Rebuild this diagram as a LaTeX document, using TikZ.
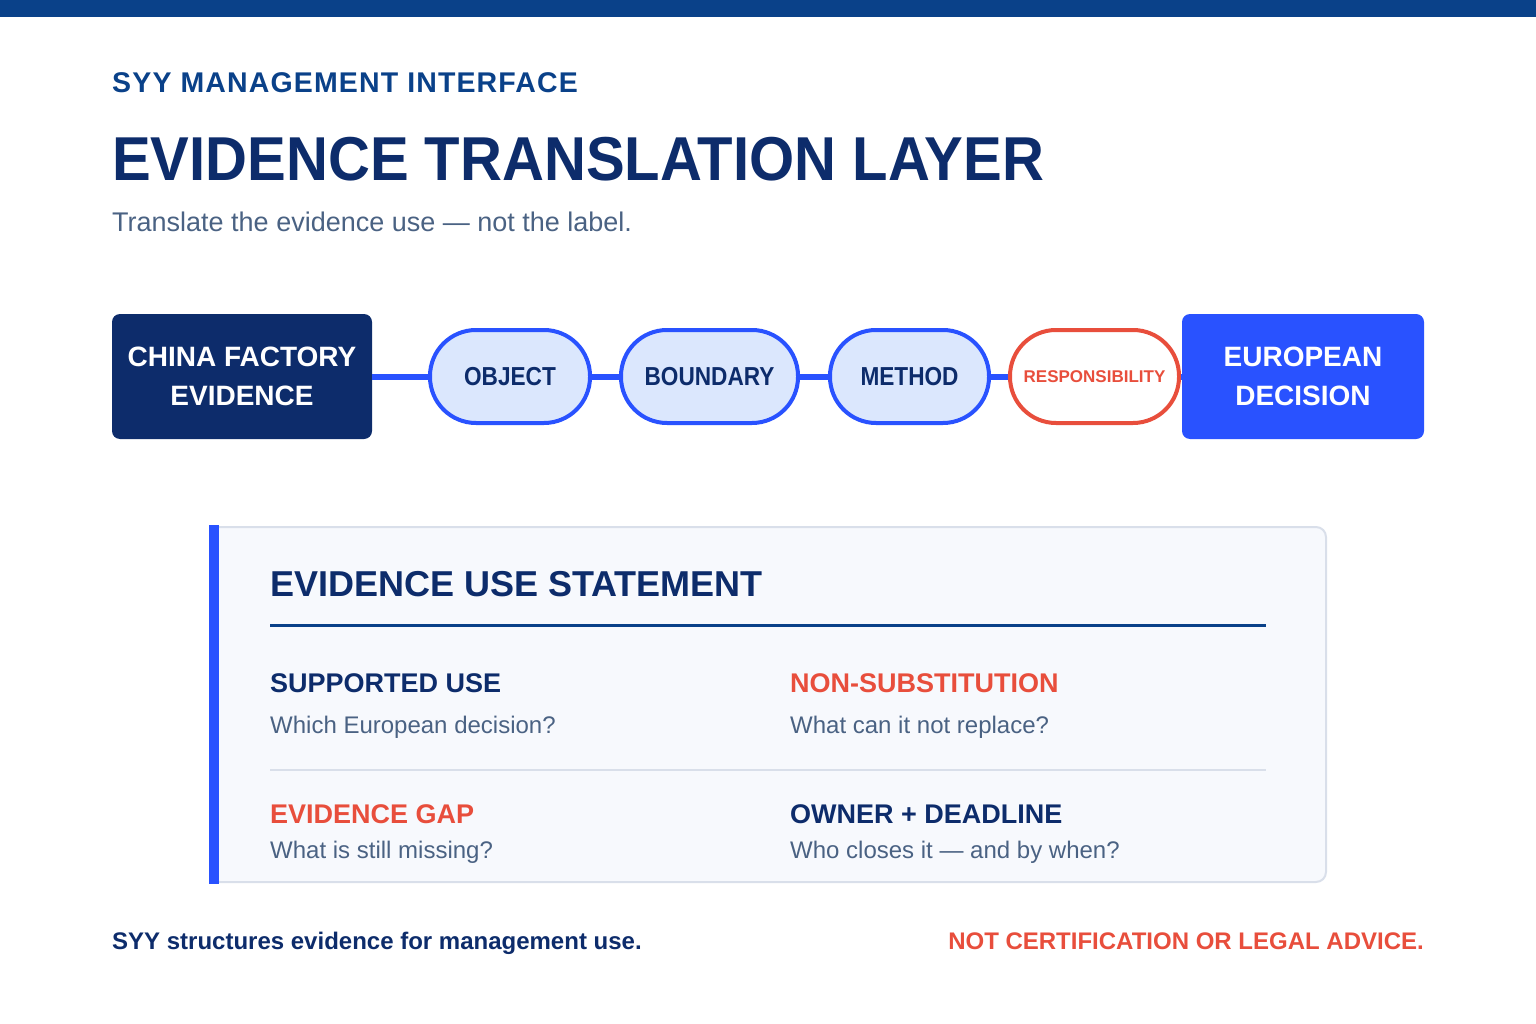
\documentclass[tikz,border=0pt]{standalone}
\usepackage{fontspec}
\setmainfont{Liberation Sans}
\newfontfamily\headfont{Liberation Sans}[FakeStretch=0.936]
\newfontfamily\pillfont{Liberation Sans}[FakeStretch=0.87]
\usetikzlibrary{positioning, calc}
\definecolor{topblue}{HTML}{0A4189}
\definecolor{navy}{HTML}{0D2C6B}
\definecolor{brightblue}{HTML}{2952FF}
\definecolor{pillfill}{HTML}{DBE7FD}
\definecolor{alertred}{HTML}{E84E3C}
\definecolor{slate}{HTML}{4A6283}
\definecolor{cardfill}{HTML}{F7F9FD}
\definecolor{cardline}{HTML}{D9DFEA}
\newcommand{\fsz}[2]{\fontsize{#1}{#2}\selectfont}

\begin{document}
\begin{tikzpicture}[x=1pt,y=-1pt,
  txt/.style={anchor=base west, inner sep=0pt},
  endbox/.style={rounded corners=8pt, minimum width=260pt, minimum height=125pt, inner sep=0pt, align=center, text=white, font=\fsz{28}{39}\bfseries},
  pill/.style={draw=brightblue, fill=pillfill, line width=4pt, rounded corners=46pt, minimum height=93pt, inner sep=0pt, text=navy, font=\pillfont\fsz{26}{26}\bfseries},
  link/.style={brightblue, line width=6pt},
  item/.style={txt, font=\fsz{27}{27}\bfseries},
  ask/.style={txt, text=slate, font=\fsz{24}{24}},
  ]
  \useasboundingbox (0,0) rectangle (1536,1024);
  \fill[topblue] (0,0) rectangle (1536,17);

  \node[txt, text=topblue, font=\fsz{28.5}{28.5}\bfseries\addfontfeatures{LetterSpace=4}] (kicker) at (112,92.5) {SYY MANAGEMENT INTERFACE};
  \node[txt, text=navy, font=\headfont\fsz{62}{62}\bfseries] (title) at (112,181) {EVIDENCE TRANSLATION LAYER};
  \node[txt, text=slate, font=\fsz{27}{27}] (subtitle) at (112,232) {Translate the evidence use --- not the label.};

  \node[endbox, fill=navy] (china) at (242,376.5) {CHINA FACTORY\\EVIDENCE};
  \node[endbox, fill=brightblue, minimum width=242pt] (europe) at (1303,376.5) {EUROPEAN\\DECISION};
  \node[pill, minimum width=160pt] (object) at (510,376.5) {OBJECT};
  \node[pill, minimum width=177pt] (boundary) at (709.5,376.5) {BOUNDARY};
  \node[pill, minimum width=159pt] (method) at (909.5,376.5) {METHOD};
  \node[pill, minimum width=169pt, draw=alertred, fill=white, text=alertred, font=\fsz{17}{17}\bfseries] (resp) at (1094.5,376.5) {RESPONSIBILITY};
  \foreach \a/\b in {china/object, object/boundary, boundary/method, method/resp, resp/europe}
    \draw[link] (\a) -- (\b);

  \node[draw=cardline, fill=cardfill, line width=2pt, rounded corners=10pt, minimum width=1116pt, minimum height=355pt, inner sep=0pt] (card) at (768,704.5) {};
  \fill[brightblue] ([yshift=1pt]card.north west) rectangle ([xshift=10pt,yshift=-1pt]card.south west);
  \node[txt, text=navy, font=\fsz{36}{36}\bfseries] (heading) at (270,596) {EVIDENCE USE STATEMENT};
  \draw[topblue, line width=3pt] (270,625) -- (1266,625);
  \draw[cardline, line width=2pt] (270,770) -- (1266,770);

  \node[item, text=navy] (use) at (270,692) {SUPPORTED USE};
  \node[ask] (useq) at (270,733) {Which European decision?};
  \node[item, text=alertred] (nonsub) at (790,692) {NON-SUBSTITUTION};
  \node[ask] (nonsubq) at (790,733) {What can it not replace?};
  \node[item, text=alertred] (gap) at (270,823) {EVIDENCE GAP};
  \node[ask] (gapq) at (270,858) {What is still missing?};
  \node[item, text=navy] (owner) at (790,823) {OWNER + DEADLINE};
  \node[ask] (ownerq) at (790,858) {Who closes it --- and by when?};

  \node[txt, text=navy, font=\fsz{24}{24}\bfseries] (footl) at (112,949) {SYY structures evidence for management use.};
  \node[anchor=base east, inner sep=0pt, text=alertred, font=\fsz{24}{24}\bfseries] (footr) at (1424,949) {NOT CERTIFICATION OR LEGAL ADVICE.};
\end{tikzpicture}
\end{document}
